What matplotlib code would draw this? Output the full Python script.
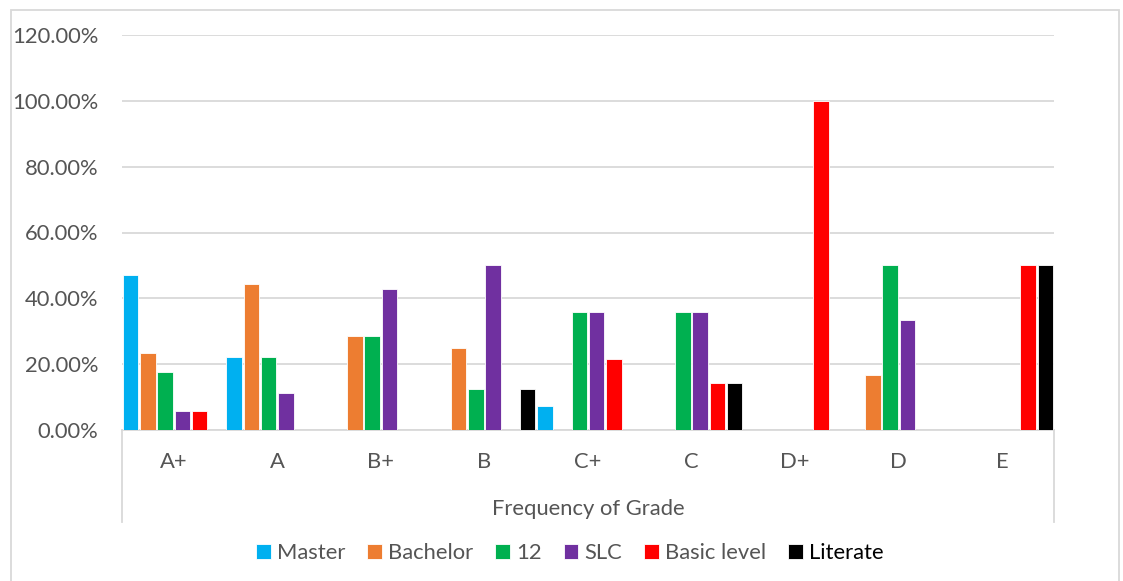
import matplotlib
matplotlib.use("Agg")
import matplotlib.pyplot as plt
import numpy as np
from matplotlib.lines import Line2D
from matplotlib.patches import Rectangle

plt.rcParams['font.family'] = ['Lato', 'DejaVu Sans']

grades = ['A+', 'A', 'B+', 'B', 'C+', 'C', 'D+', 'D', 'E']
series = ['Master', 'Bachelor', '12', 'SLC', 'Basic level', 'Literate']
colors = ['#00B0F0', '#ED7D31', '#00B050', '#7030A0', '#FF0000', '#000000']

# percentage of each education level per grade
master = [47.06, 22.22, 0, 0, 7.14, 0, 0, 0, 0]
bachelor = [23.53, 44.44, 28.57, 25.00, 0, 0, 0, 16.67, 0]
twelve = [17.65, 22.22, 28.57, 12.50, 35.71, 35.71, 0, 50.00, 0]
slc = [5.88, 11.11, 42.86, 50.00, 35.71, 35.71, 0, 33.33, 0]
basic = [5.88, 0, 0, 0, 21.43, 14.29, 100.00, 0, 50.00]
literate = [0, 0, 0, 12.50, 0, 14.29, 0, 0, 50.00]
values = [master, bachelor, twelve, slc, basic, literate]

grey = '#555555'
line_grey = '#D9D9D9'
fs = 15.8

fig = plt.figure(figsize=(11.23, 5.81), dpi=100)
W, H = 1123, 581
ax = fig.add_axes([122 / W, (H - 430) / H, 932 / W, 395 / H])

x = np.arange(len(grades))
step = 1 / 6
for i, (name, vals, c) in enumerate(zip(series, values, colors)):
    ax.bar(x - 0.5 + step * (i + 0.5), vals, width=step * 0.9, color=c,
           edgecolor='white', linewidth=0.6, label=name, zorder=3)

ax.set_xlim(-0.5, len(grades) - 0.5)
ax.set_ylim(0, 120)
ax.set_yticks(np.arange(0, 121, 20))
ax.set_yticklabels([f'{v:.2f}%' for v in np.arange(0, 121, 20)],
                   fontsize=fs, color=grey)
ax.yaxis.grid(True, color=line_grey, linewidth=1.3, zorder=0)
ax.tick_params(axis='y', length=0, pad=17)
ax.set_xticks(x)
ax.set_xticklabels(grades, fontsize=fs, color=grey)
ax.tick_params(axis='x', length=0, pad=16)
for s in ['top', 'right', 'left']:
    ax.spines[s].set_visible(False)
ax.spines['bottom'].set_color(line_grey)
ax.spines['bottom'].set_linewidth(1.3)

# outer separators of the two-level category axis
for xe in (0, 1):
    ax.add_line(Line2D([xe, xe], [0, -92 / 395], transform=ax.transAxes,
                       color=line_grey, linewidth=1.3, clip_on=False))
ax.text(0.5, -(509 - 430) / 395, 'Frequency of Grade', transform=ax.transAxes,
        ha='center', va='center', fontsize=fs, color=grey)

leg = fig.legend(loc='center', bbox_to_anchor=(570 / W, (H - 553) / H), ncol=6,
                 frameon=False, fontsize=fs, handlelength=0.65, handleheight=0.65,
                 handletextpad=0.3, columnspacing=1.0)
for t in leg.get_texts():
    t.set_color(grey)
leg.get_texts()[-1].set_color('black')

fig.patches.append(Rectangle((11 / W, -0.01), (1119 - 11) / W, (H - 10) / H + 0.01,
                             transform=fig.transFigure, fill=False,
                             edgecolor=line_grey, linewidth=1.3))

fig.savefig('out.png', dpi=100)
